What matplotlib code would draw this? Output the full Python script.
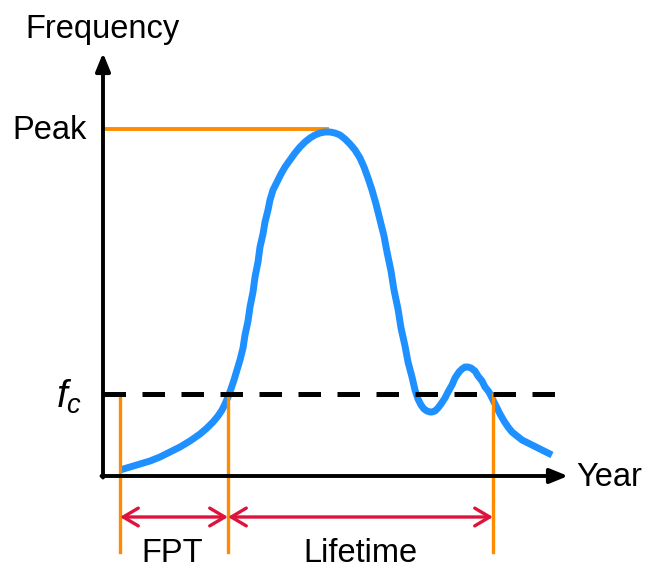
import matplotlib
matplotlib.use("Agg")
import matplotlib.pyplot as plt

# ------------------------------------------------------------
# Data (schematic in picture units)
# ------------------------------------------------------------
curve_x = [120, 130, 140, 150, 160, 170, 180, 190, 200, 207, 213, 218, 222,
           225, 228, 231, 234, 237, 240, 243, 245, 248, 250, 253, 255, 258,
           260, 263, 265, 268, 270, 273, 277, 281, 285, 290, 295, 300, 305,
           310, 315, 320, 325, 330, 335, 340, 345, 350, 355, 360, 364, 368,
           372, 376, 380, 384, 387, 391, 394, 398, 401, 405, 408, 412, 415,
           418, 421, 424, 427, 430, 432, 435, 438, 441, 445, 448, 452, 455,
           459, 462, 465, 468, 471, 475, 478, 482, 485, 489, 492, 496, 500,
           504, 508, 512, 517, 522, 528, 534, 540, 546, 552]
curve_y = [470, 467, 464, 461, 457, 452, 447, 441, 434, 428, 422, 416, 410,
           404, 397, 389, 380, 370, 360, 348, 335, 321, 307, 292, 277, 262,
           247, 234, 222, 210, 200, 190, 182, 174, 167, 160, 153, 147, 142,
           138, 135, 133, 132, 132, 133, 135, 139, 144, 150, 158, 167, 178,
           190, 204, 220, 236, 252, 271, 290, 309, 328, 346, 362, 377, 390,
           399, 405, 409, 411, 412, 412, 411, 408, 404, 398, 392, 385, 378,
           372, 369, 367, 367, 368, 371, 376, 381, 387, 392, 398, 406, 414,
           421, 427, 432, 436, 440, 443, 446, 449, 452, 455]

origin_x, origin_y = 103, 476
x_axis_end = 568
y_axis_end = 53
peak_y = 129
peak_x = 327
fc_y = 394
fc_end = 555
marks_x = [120, 228, 493]      # start, FPT end, lifetime end
marks_bottom = 552
span_y = 517

plt.rcParams["font.family"] = ["Liberation Sans", "DejaVu Sans"]
plt.rcParams["mathtext.fontset"] = "custom"
plt.rcParams["mathtext.it"] = "Liberation Sans:italic"
plt.rcParams["mathtext.rm"] = "Liberation Sans"

fig = plt.figure(figsize=(6.51, 5.72), dpi=100)
ax = fig.add_axes([0, 0, 1, 1])
ax.set_xlim(0, 651)
ax.set_ylim(572, 0)
ax.axis("off")

blue = "#1E90FF"
orange = "#FF8C00"
red = "#DC143C"

# ------------------------------------------------------------
# Axes with arrows
# ------------------------------------------------------------
axis_style = dict(arrowstyle="-|>,head_length=0.54,head_width=0.22",
                  lw=2.8, color="black", shrinkA=0, shrinkB=0,
                  mutation_scale=20)
ax.annotate("", xy=(x_axis_end, origin_y), xytext=(origin_x - 1.5, origin_y),
            arrowprops=axis_style, zorder=5)
ax.annotate("", xy=(origin_x, y_axis_end), xytext=(origin_x, origin_y + 1.5),
            arrowprops=axis_style, zorder=5)

# ------------------------------------------------------------
# Curve, peak line, threshold and markers
# ------------------------------------------------------------
ax.plot([origin_x, peak_x], [peak_y, peak_y], color=orange, lw=2.8, zorder=2)
ax.plot(curve_x, curve_y, color=blue, lw=5, solid_joinstyle="round",
        solid_capstyle="butt", zorder=3)

for mx in marks_x:
    ax.plot([mx, mx], [fc_y, marks_bottom], color=orange, lw=2.4, zorder=4)

ax.plot([origin_x, fc_end], [fc_y, fc_y], color="black", lw=3.6,
        dashes=(4.5, 3.3), zorder=6)

span_style = dict(arrowstyle="<->,head_length=0.54,head_width=0.32",
                  lw=2.4, color=red, shrinkA=0, shrinkB=0, mutation_scale=20)
ax.annotate("", xy=(marks_x[1], span_y), xytext=(marks_x[0], span_y),
            arrowprops=span_style, zorder=4)
ax.annotate("", xy=(marks_x[2], span_y), xytext=(marks_x[1], span_y),
            arrowprops=span_style, zorder=4)

# ------------------------------------------------------------
# Labels
# ------------------------------------------------------------
fs = 23.5
ax.text(102, 38, "Frequency", fontsize=fs, ha="center", va="baseline")
ax.text(50, 139, "Peak", fontsize=fs, ha="center", va="baseline")
ax.text(56, 408, "$f_c$", fontsize=28, ha="left", va="baseline")
ax.text(576, 486, "Year", fontsize=fs, ha="left", va="baseline")
ax.text(172, 562, "FPT", fontsize=fs, ha="center", va="baseline")
ax.text(360, 562, "Lifetime", fontsize=fs, ha="center", va="baseline")

plt.savefig("out.png", dpi=100)
